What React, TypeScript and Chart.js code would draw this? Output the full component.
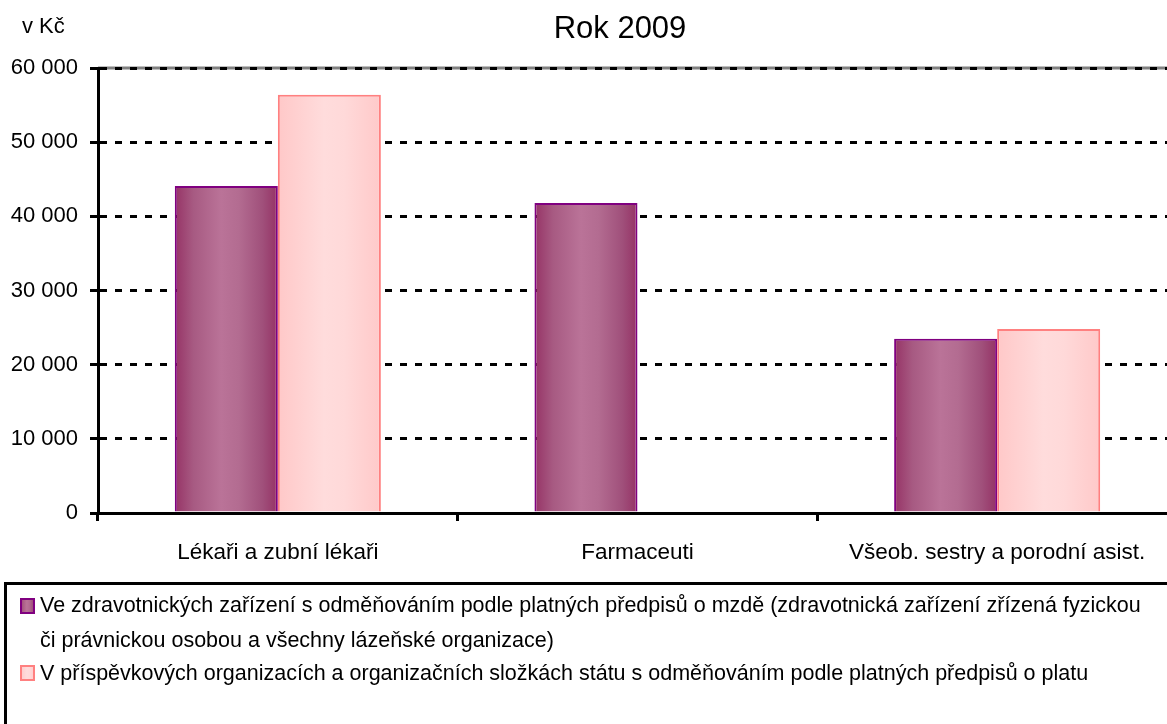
import React, { useEffect, useRef } from 'react';
import { Chart, registerables } from 'chart.js';

Chart.register(...registerables);

const chartTitle = 'Rok 2009';
const unitLabel = 'v Kč';
const categories = ['Lékaři a zubní lékaři', 'Farmaceuti', 'Všeob. sestry a porodní asist.'];
const seriesMzdaLabel =
  'Ve zdravotnických zařízení s odměňováním podle platných předpisů o mzdě (zdravotnická zařízení zřízená fyzickou či právnickou osobou a všechny lázeňské organizace)';
const seriesPlatLabel =
  'V příspěvkových organizacích a organizačních složkách státu s odměňováním podle platných předpisů o platu';
const seriesMzda = [44100, 41800, 23500];
const seriesPlat = [56400, null, 24800];
const yTickLabels = ['0', '10 000', '20 000', '30 000', '40 000', '50 000', '60 000'];

const SANS = '"Liberation Sans", Arial, sans-serif';

const gradientStops: [number, string][][] = [
  [
    [0, '#963366'],
    [0.18, '#A75A82'],
    [0.45, '#BA7398'],
    [0.62, '#B36C91'],
    [0.85, '#A0507B'],
    [1, '#953265'],
  ],
  [
    [0, '#FFC8C8'],
    [0.45, '#FFDCDC'],
    [0.65, '#FFD9D9'],
    [1, '#FFC9C9'],
  ],
];
const borderColors = ['#800080', '#FF8080'];

function makeGradient(ctx: CanvasRenderingContext2D, x0: number, x1: number, di: number) {
  const g = ctx.createLinearGradient(x0, 0, x1, 0);
  gradientStops[di].forEach(([o, c]) => g.addColorStop(o, c));
  return g;
}

function wrapText(ctx: CanvasRenderingContext2D, text: string, maxWidth: number): string[] {
  const words = text.split(' ');
  const lines: string[] = [];
  let cur = '';
  for (const w of words) {
    const test = cur ? cur + ' ' + w : w;
    if (ctx.measureText(test).width > maxWidth && cur) {
      lines.push(cur);
      cur = w;
    } else {
      cur = test;
    }
  }
  if (cur) lines.push(cur);
  return lines;
}

const barGradientPlugin = {
  id: 'barGradient',
  beforeDatasetsDraw(chart: any) {
    const ctx = chart.ctx;
    chart.data.datasets.forEach((_ds: any, di: number) => {
      const meta = chart.getDatasetMeta(di);
      meta.data.forEach((el: any) => {
        const { x, width } = el.getProps(['x', 'width'], true);
        if (!isFinite(x) || !width) return;
        el.options.backgroundColor = makeGradient(ctx, x - width / 2, x + width / 2, di);
      });
    });
  },
};

const decorPlugin = {
  id: 'decor',
  beforeDraw(chart: any) {
    const { ctx, chartArea } = chart;
    ctx.save();
    ctx.strokeStyle = '#808080';
    ctx.lineWidth = 3;
    ctx.beginPath();
    ctx.moveTo(chartArea.left, chartArea.top);
    ctx.lineTo(chartArea.right, chartArea.top);
    ctx.stroke();
    ctx.restore();
  },
  afterDraw(chart: any) {
    const ctx: CanvasRenderingContext2D = chart.ctx;
    ctx.save();
    ctx.fillStyle = '#000';
    ctx.textBaseline = 'middle';
    // title
    ctx.font = `31px ${SANS}`;
    ctx.textAlign = 'center';
    ctx.fillText(chartTitle, 620, 29);
    // unit label
    ctx.font = `22px ${SANS}`;
    ctx.textAlign = 'left';
    ctx.fillText(unitLabel, 22, 27);

    // legend box
    ctx.strokeStyle = '#000';
    ctx.lineWidth = 3;
    ctx.strokeRect(5.5, 583.5, 1400, 400);

    // legend entries
    ctx.font = `21.5px ${SANS}`;
    const textX = 40;
    const maxW = 1118;
    const entries = [
      { label: seriesMzdaLabel, y: 606, box: 598 },
      { label: seriesPlatLabel, y: 674, box: 665 },
    ];
    entries.forEach((e, di) => {
      const g = makeGradient(ctx, 20, 35, di);
      ctx.fillStyle = g;
      ctx.fillRect(20, e.box, 15, 16);
      ctx.strokeStyle = borderColors[di];
      ctx.lineWidth = 2;
      ctx.strokeRect(21, e.box + 1, 13, 14);
      ctx.fillStyle = '#000';
      const lines = wrapText(ctx, e.label, maxW);
      lines.forEach((ln, i) => ctx.fillText(ln, textX, e.y + i * 35));
    });
    ctx.restore();
  },
};

export default function App() {
  const canvasRef = useRef<HTMLCanvasElement | null>(null);

  useEffect(() => {
    const canvas = canvasRef.current;
    if (!canvas) return;
    const chart = new Chart(canvas, {
      type: 'bar',
      data: {
        labels: categories,
        datasets: [
          {
            label: seriesMzdaLabel,
            data: seriesMzda,
            backgroundColor: () => '#A75A82',
            borderColor: borderColors[0],
            borderWidth: 2,
            categoryPercentage: 0.573,
            barPercentage: 1,
          },
          {
            label: seriesPlatLabel,
            data: seriesPlat,
            backgroundColor: () => '#FFD0D0',
            borderColor: borderColors[1],
            borderWidth: 2,
            categoryPercentage: 0.573,
            barPercentage: 1,
          },
        ],
      },
      options: {
        responsive: false,
        animation: false,
        layout: { padding: { top: 68, left: 0, right: 0, bottom: 0 } },
        plugins: {
          legend: { display: false },
          title: { display: false },
          tooltip: { enabled: false },
        },
        scales: {
          x: {
            grid: {
              display: true,
              drawOnChartArea: false,
              drawTicks: true,
              offset: true,
              tickLength: 8,
              tickWidth: 3,
              tickColor: '#000',
              lineWidth: 3,
              color: '#000',
            },
            border: { display: true, color: '#000', width: 3 },
            ticks: {
              font: { family: SANS, size: 22.5 },
              color: '#000',
              padding: 18,
              maxRotation: 0,
              autoSkip: false,
            },
            afterFit: (s: any) => {
              s.height = 211;
            },
          },
          y: {
            min: 0,
            max: 60000,
            ticks: {
              stepSize: 10000,
              font: { family: SANS, size: 22 },
              color: '#000',
              padding: 12,
              callback: (_v: any, i: number) => yTickLabels[i],
            },
            grid: {
              color: '#000',
              lineWidth: 3,
              drawTicks: true,
              tickLength: 8,
              tickWidth: 3,
              tickColor: '#000',
            },
            border: { display: true, color: '#000', width: 3, dash: [7, 8] },
            afterFit: (s: any) => {
              s.width = 98;
            },
          },
        },
      },
      plugins: [barGradientPlugin, decorPlugin],
    } as any);
    return () => chart.destroy();
  }, []);

  return (
    <div
      style={{
        position: 'fixed',
        left: 0,
        top: 0,
        width: 1167,
        height: 724,
        overflow: 'hidden',
        background: '#fff',
      }}
    >
      <canvas ref={canvasRef} width={1177} height={724} style={{ display: 'block', width: 1177, height: 724 }} />
    </div>
  );
}
